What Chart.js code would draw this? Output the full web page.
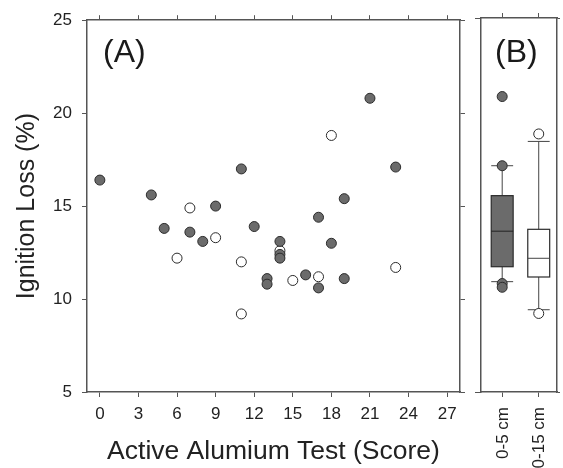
<!DOCTYPE html>
<html>
<head>
<meta charset="utf-8">
<script src="https://cdn.jsdelivr.net/npm/chart.js@4.4.0/dist/chart.umd.min.js"></script>
<style>
  html, body { margin: 0; padding: 0; background: #fff; overflow: hidden; }
  #chartA { position: absolute; left: 0; top: 0; }
  #chartB { position: absolute; left: 470px; top: 0; }
</style>
</head>
<body>
<canvas id="chartA" width="470" height="468"></canvas>
<canvas id="chartB" width="93" height="468"></canvas>
<script>
// panel A - loss vs active aluminium score
const scoreTicks = [0, 3, 6, 9, 12, 15, 18, 21, 24, 27];
const lossTicks = [5, 10, 15, 20, 25];

const shallowScore = [0, 4, 5, 7, 8, 9, 11, 12, 13, 13, 14, 14, 14, 16, 17, 17, 18, 19, 19, 21, 23];
const shallowLoss = [16.4, 15.6, 13.8, 13.6, 13.1, 15.0, 17.0, 13.9, 11.1, 10.8, 13.1, 12.4, 12.2, 11.3, 14.4, 10.6, 13.0, 15.4, 11.1, 20.8, 17.1];
const deepScore = [6, 7, 9, 11, 11, 14, 15, 17, 18, 23];
const deepLoss = [12.2, 14.9, 13.3, 12.0, 9.2, 12.6, 11.0, 11.2, 18.8, 11.7];

// panel B - box plots per depth
const depthLabels = ['0-5 cm', '0-15 cm'];
const boxLow = [10.9, 9.4];
const boxQ1 = [11.7, 11.15];
const boxMedian = [13.6, 12.15];
const boxQ3 = [15.5, 13.7];
const boxHigh = [17.1, 18.4];
const shallowOutliers = [20.8, 17.1, 10.8, 10.6];
const deepOutliers = [18.8, 9.2];

const FONT = "'Liberation Sans', Arial, Helvetica, sans-serif";
const AXIS = '#555';
const DARK = '#2b2b2b';
const GREY = '#6b6b6b';

const frameGrid = { drawOnChartArea: false, drawTicks: true, tickLength: 5, color: AXIS, lineWidth: 1 };
const frameBorder = { display: true, color: AXIS, width: 1.5 };
const tickFont = { family: FONT, size: 17 };

function fixed(ticks) {
    return (scale) => { scale.ticks = ticks.map(v => ({ value: v })); };
}

function panelLabel(text, dx) {
    return {
        id: 'panelLabel',
        afterDraw(chart) {
            const ctx = chart.ctx;
            ctx.save();
            ctx.font = `32px ${FONT}`;
            ctx.fillStyle = '#1a1a1a';
            ctx.textBaseline = 'middle';
            ctx.textAlign = 'left';
            ctx.fillText(text, chart.chartArea.left + dx, 53);
            ctx.restore();
        }
    };
}

new Chart(document.getElementById('chartA'), {
    type: 'scatter',
    data: {
        datasets: [{
            label: '0-5 cm',
            data: shallowScore.map((s, i) => ({ x: s, y: shallowLoss[i] })),
            backgroundColor: GREY,
            borderColor: DARK,
            borderWidth: 1,
            pointRadius: 5
        }, {
            label: '0-15 cm',
            data: deepScore.map((s, i) => ({ x: s, y: deepLoss[i] })),
            backgroundColor: '#fff',
            borderColor: DARK,
            borderWidth: 1,
            pointRadius: 5
        }]
    },
    options: {
        responsive: false,
        animation: false,
        layout: { padding: 0 },
        plugins: { legend: { display: false }, tooltip: { enabled: false } },
        scales: {
            x: {
                type: 'linear', position: 'bottom', min: -1, max: 28,
                afterBuildTicks: fixed(scoreTicks),
                afterFit: (s) => { s.height = 76; },
                grid: frameGrid, border: frameBorder,
                ticks: { font: tickFont, color: '#222', padding: 7, maxRotation: 0 },
                title: { display: true, text: 'Active Alumium Test (Score)', color: '#222', font: { family: FONT, size: 26.5 }, padding: { top: 0, bottom: 0 } }
            },
            xTop: {
                type: 'linear', position: 'top', min: -1, max: 28,
                afterBuildTicks: fixed(scoreTicks),
                afterFit: (s) => { s.height = 18; },
                grid: frameGrid, border: frameBorder,
                ticks: { display: false }
            },
            y: {
                type: 'linear', position: 'left', min: 5, max: 25,
                afterBuildTicks: fixed(lossTicks),
                afterFit: (s) => { s.width = 87; },
                grid: frameGrid, border: frameBorder,
                ticks: { font: tickFont, color: '#222', padding: 10 },
                title: { display: true, text: 'Ignition Loss (%)', color: '#222', font: { family: FONT, size: 25 }, padding: { top: 12, bottom: 0 } }
            },
            yRight: {
                type: 'linear', position: 'right', min: 5, max: 25,
                afterBuildTicks: fixed(lossTicks),
                afterFit: (s) => { s.width = 10; },
                grid: frameGrid, border: frameBorder,
                ticks: { display: false }
            }
        }
    },
    plugins: [panelLabel('(A)', 16)]
});

// whiskers, box and median drawn from the arrays through the chart scales
const boxHalf = 0.3;
const boxPlot = {
    id: 'boxPlot',
    beforeDatasetsDraw(chart) {
        const { ctx, scales: { x, y } } = chart;
        ctx.save();
        depthLabels.forEach((_, i) => {
            const cx = x.getPixelForValue(i + 1);
            const l = x.getPixelForValue(i + 1 - boxHalf);
            const r = x.getPixelForValue(i + 1 + boxHalf);
            const py = (v) => y.getPixelForValue(v);

            ctx.strokeStyle = '#444';
            ctx.lineWidth = 1;
            ctx.beginPath();
            ctx.moveTo(cx, py(boxQ3[i])); ctx.lineTo(cx, py(boxHigh[i]));
            ctx.moveTo(cx, py(boxQ1[i])); ctx.lineTo(cx, py(boxLow[i]));
            ctx.moveTo(l, py(boxHigh[i])); ctx.lineTo(r, py(boxHigh[i]));
            ctx.moveTo(l, py(boxLow[i])); ctx.lineTo(r, py(boxLow[i]));
            ctx.stroke();

            ctx.fillStyle = i === 0 ? GREY : '#fff';
            ctx.fillRect(l, py(boxQ3[i]), r - l, py(boxQ1[i]) - py(boxQ3[i]));
            ctx.strokeStyle = DARK;
            ctx.lineWidth = 1.2;
            ctx.strokeRect(l, py(boxQ3[i]), r - l, py(boxQ1[i]) - py(boxQ3[i]));

            ctx.strokeStyle = i === 0 ? '#222' : '#444';
            ctx.lineWidth = 1;
            ctx.beginPath();
            ctx.moveTo(l, py(boxMedian[i])); ctx.lineTo(r, py(boxMedian[i]));
            ctx.stroke();
        });
        ctx.restore();
    }
};

new Chart(document.getElementById('chartB'), {
    type: 'scatter',
    data: {
        datasets: [{
            data: shallowOutliers.map(v => ({ x: 1, y: v })),
            backgroundColor: GREY,
            borderColor: DARK,
            borderWidth: 1,
            pointRadius: 5
        }, {
            data: deepOutliers.map(v => ({ x: 2, y: v })),
            backgroundColor: '#fff',
            borderColor: DARK,
            borderWidth: 1,
            pointRadius: 5
        }]
    },
    options: {
        responsive: false,
        animation: false,
        layout: { padding: 0 },
        plugins: { legend: { display: false }, tooltip: { enabled: false } },
        scales: {
            x: {
                type: 'linear', position: 'bottom', min: 0.42, max: 2.5,
                afterBuildTicks: fixed([1, 2]),
                afterFit: (s) => { s.height = 76; s.paddingLeft = 0; s.paddingRight = 0; },
                grid: frameGrid, border: frameBorder,
                ticks: {
                    font: tickFont, color: '#222', padding: 10, labelOffset: 1,
                    minRotation: 90, maxRotation: 90, autoSkip: false,
                    callback: (v) => depthLabels[v - 1]
                }
            },
            xTop: {
                type: 'linear', position: 'top', min: 0.42, max: 2.5,
                afterBuildTicks: fixed([1, 2]),
                afterFit: (s) => { s.height = 18; },
                grid: frameGrid, border: frameBorder,
                ticks: { display: false }
            },
            y: {
                type: 'linear', position: 'left', min: 5, max: 25,
                afterBuildTicks: fixed([5, 25]),
                afterFit: (s) => { s.width = 11; },
                grid: { ...frameGrid, tickLength: 6 }, border: frameBorder,
                ticks: { display: false }
            },
            yRight: {
                type: 'linear', position: 'right', min: 5, max: 25,
                afterBuildTicks: fixed([5, 25]),
                afterFit: (s) => { s.width = 3; },
                grid: { ...frameGrid, tickLength: 3 }, border: frameBorder,
                ticks: { display: false }
            }
        }
    },
    plugins: [boxPlot, panelLabel('(B)', 14)]
});
</script>
</body>
</html>
